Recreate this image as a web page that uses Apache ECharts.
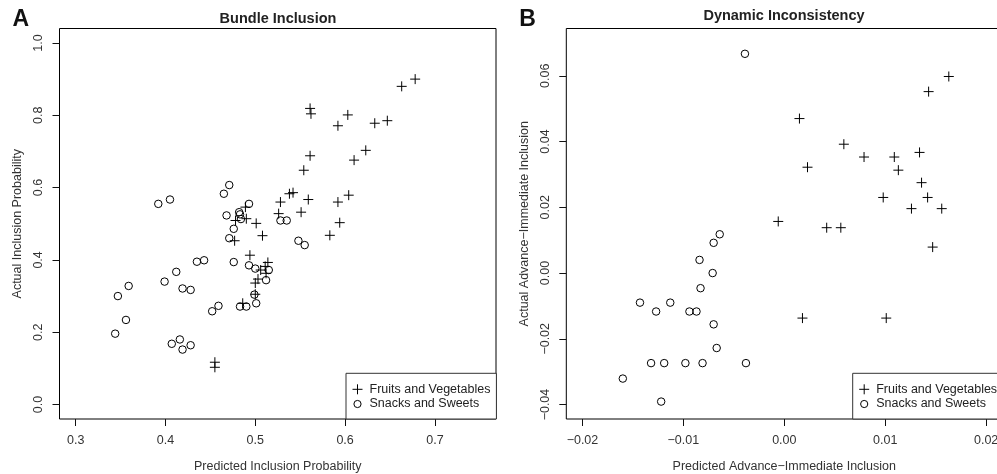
<!DOCTYPE html>
<html>
<head>
<meta charset="utf-8"/>
<style>
  html,body { height:100%; width:100%; margin:0; padding:0; background:#fff; }
  #chart { width:997px; height:474px; }
</style>
</head>
<body>
<div id="chart"></div>
<script src="https://cdn.jsdelivr.net/npm/echarts@6/dist/echarts.min.js"></script>
<script type="text/javascript">

// ---- panel A: bundle inclusion ----
var fvPredA   = [0.678,0.663,0.561,0.562,0.603,0.592,0.633,0.647,0.561,0.623,0.610,0.554,
                 0.538,0.542,0.528,0.559,0.592,0.604,0.526,0.551,0.594,
                 0.489,0.478,0.490,0.501,0.508,0.583,0.477,
                 0.494,0.514,0.511,0.506,0.512,0.503,0.500,0.500,0.486,
                 0.455,0.455];
var fvActualA = [0.900,0.880,0.819,0.804,0.801,0.771,0.778,0.785,0.688,0.703,0.676,0.648,
                 0.583,0.586,0.560,0.567,0.560,0.579,0.528,0.532,0.503,
                 0.546,0.509,0.514,0.501,0.467,0.468,0.453,
                 0.413,0.393,0.382,0.372,0.363,0.347,0.336,0.305,0.280,
                 0.117,0.103];
var ssPredA   = [0.392,0.405,0.471,0.465,0.493,0.468,0.482,0.483,0.484,0.476,0.528,0.535,0.471,0.548,0.555,
                 0.435,0.443,0.476,0.493,0.500,0.515,0.512,0.499,0.501,0.483,0.490,0.452,0.459,
                 0.399,0.412,0.419,0.428,0.359,0.347,0.356,0.344,0.407,0.416,0.419,0.428];
var ssActualA = [0.555,0.567,0.607,0.583,0.555,0.523,0.532,0.526,0.513,0.486,0.509,0.509,0.460,0.453,0.441,
                 0.395,0.399,0.394,0.385,0.376,0.372,0.344,0.304,0.280,0.271,0.271,0.258,0.273,
                 0.340,0.367,0.321,0.317,0.328,0.300,0.234,0.196,0.168,0.180,0.152,0.164];

// ---- panel B: dynamic inconsistency ----
var fvPredB   = [0.0163,0.0143,0.0015,0.0059,0.0023,0.0079,0.0109,0.0134,0.0113,0.0136,
                 0.0098,0.0142,0.0126,0.0156,-0.0006,0.0042,0.0056,0.0147,0.0018,0.0101];
var fvActualB = [0.0598,0.0552,0.0470,0.0392,0.0322,0.0353,0.0353,0.0367,0.0313,0.0275,
                 0.0230,0.0230,0.0196,0.0196,0.0157,0.0138,0.0138,0.0079,-0.0137,-0.0137];
var ssPredB   = [-0.0039,-0.0064,-0.0070,-0.0084,-0.0071,-0.0083,-0.0143,-0.0113,-0.0127,-0.0094,
                 -0.0087,-0.0070,-0.0067,-0.0132,-0.0119,-0.0098,-0.0081,-0.0038,-0.0160,-0.0122];
var ssActualB = [0.0667,0.0118,0.0092,0.0040,0.0000,-0.0046,-0.0090,-0.0090,-0.0117,-0.0117,
                 -0.0117,-0.0156,-0.0228,-0.0274,-0.0274,-0.0274,-0.0274,-0.0274,-0.0321,-0.0391];

// ---- ticks ----
var xTicksA = [0.3, 0.4, 0.5, 0.6, 0.7];
var xLabelsA = ['0.3', '0.4', '0.5', '0.6', '0.7'];
var yTicksA = [0, 0.2, 0.4, 0.6, 0.8, 1.0];
var yLabelsA = ['0.0', '0.2', '0.4', '0.6', '0.8', '1.0'];
var xTicksB = [-0.02, -0.01, 0, 0.01, 0.02];
var xLabelsB = ['\u22120.02', '\u22120.01', '0.00', '0.01', '0.02'];
var yTicksB = [-0.04, -0.02, 0, 0.02, 0.04, 0.06];
var yLabelsB = ['\u22120.04', '\u22120.02', '0.00', '0.02', '0.04', '0.06'];

var seriesNames = ['Fruits and Vegetables', 'Snacks and Sweets'];

var font = 'Liberation Sans, Arial, Helvetica, sans-serif';
var plusPath = 'path://M0,5H10M5,0V10';
// ring with a 10x10 bounding box so the legend circle stays smaller than the plus
var ringIcon = 'path://M0,0M10,10M8.6,5A3.6,3.6,0,1,1,1.4,5A3.6,3.6,0,1,1,8.6,5Z';

function zip(a, b) {
    var out = [];
    for (var i = 0; i < a.length; i++) out.push([a[i], b[i]]);
    return out;
}

function labelFor(ticks, labels) {
    return function (v) {
        var best = 0;
        for (var i = 1; i < ticks.length; i++) {
            if (Math.abs(ticks[i] - v) < Math.abs(ticks[best] - v)) best = i;
        }
        return labels[best];
    };
}

function makeAxis(idx, min, max, ticks, labels, name, isY) {
    return {
        type: 'value',
        gridIndex: idx,
        min: min,
        max: max,
        name: name,
        nameLocation: 'middle',
        nameGap: isY ? 35 : 41,
        nameTextStyle: { fontFamily: font, fontSize: 12.5, color: '#333' },
        axisLine: { show: false, onZero: false },
        axisTick: { show: true, length: 7, lineStyle: { color: '#111', width: 1 }, customValues: ticks },
        axisLabel: {
            customValues: ticks,
            rotate: isY ? 90 : 0,
            margin: isY ? 14 : 15,
            fontFamily: font,
            fontSize: 12.5,
            color: '#333',
            formatter: labelFor(ticks, labels)
        },
        splitLine: { show: false }
    };
}

function makeScatter(name, idx, data, isPlus) {
    return {
        name: name,
        type: 'scatter',
        xAxisIndex: idx,
        yAxisIndex: idx,
        data: data,
        symbol: isPlus ? plusPath : 'circle',
        symbolSize: isPlus ? 10 : 7.5,
        itemStyle: { color: 'rgba(0,0,0,0)', borderColor: '#000', borderWidth: 1, opacity: 1 },
        emphasis: { disabled: true },
        silent: true,
        animation: false
    };
}

function makeLegend(left) {
    return {
        left: left,
        top: 373.3,
        orient: 'vertical',
        selectedMode: false,
        backgroundColor: '#fff',
        borderColor: '#333',
        borderWidth: 1,
        borderRadius: 0,
        padding: [9.5, 6, 8.5, 6],
        itemGap: 1.7,
        itemWidth: 10,
        itemHeight: 10,
        itemStyle: { color: 'rgba(0,0,0,0)', borderColor: '#000', borderWidth: 1 },
        textStyle: { fontFamily: font, fontSize: 12.5, color: '#222', lineHeight: 13, padding: [0, 0, 0, 2] },
        data: [
            { name: seriesNames[0], icon: plusPath },
            { name: seriesNames[1], icon: ringIcon }
        ]
    };
}

var gridBox = { show: true, borderColor: '#000', borderWidth: 1, backgroundColor: 'rgba(0,0,0,0)',
                containLabel: false, outerBoundsMode: 'none' };

var options = {
    backgroundColor: '#fff',
    animation: false,
    grid: [
        Object.assign({ left: 59.5, top: 28.5, width: 436.5, height: 390.5 }, gridBox),
        Object.assign({ left: 566.3, top: 28.5, width: 436, height: 390.5 }, gridBox)
    ],
    xAxis: [
        makeAxis(0, 0.282, 0.768, xTicksA, xLabelsA, 'Predicted Inclusion Probability', false),
        makeAxis(1, -0.0216, 0.0216, xTicksB, xLabelsB, 'Predicted Advance\u2212Immediate Inclusion', false)
    ],
    yAxis: [
        makeAxis(0, -0.04, 1.04, yTicksA, yLabelsA, 'Actual Inclusion Probability', true),
        makeAxis(1, -0.0444, 0.0744, yTicksB, yLabelsB, 'Actual Advance\u2212Immediate Inclusion', true)
    ],
    legend: [makeLegend(346), makeLegend(852.7)],
    graphic: [
        { type: 'text', x: 20.7, y: 19.7, style: { text: 'A', font: 'bold 23px ' + font, fill: '#111', align: 'center', verticalAlign: 'middle' } },
        { type: 'text', x: 527.5, y: 19.2, style: { text: 'B', font: 'bold 23px ' + font, fill: '#111', align: 'center', verticalAlign: 'middle' } },
        { type: 'text', x: 278, y: 18.5, style: { text: 'Bundle Inclusion', font: 'bold 14.5px ' + font, fill: '#222', align: 'center', verticalAlign: 'middle' } },
        { type: 'text', x: 784, y: 16, style: { text: 'Dynamic Inconsistency', font: 'bold 14.5px ' + font, fill: '#222', align: 'center', verticalAlign: 'middle' } }
    ],
    series: [
        makeScatter(seriesNames[0], 0, zip(fvPredA, fvActualA), true),
        makeScatter(seriesNames[1], 0, zip(ssPredA, ssActualA), false),
        makeScatter(seriesNames[0], 1, zip(fvPredB, fvActualB), true),
        makeScatter(seriesNames[1], 1, zip(ssPredB, ssActualB), false)
    ]
};

var myChart = echarts.init(document.getElementById('chart'), null, { renderer: 'canvas' });
myChart.setOption(options);
</script>
</body>
</html>
